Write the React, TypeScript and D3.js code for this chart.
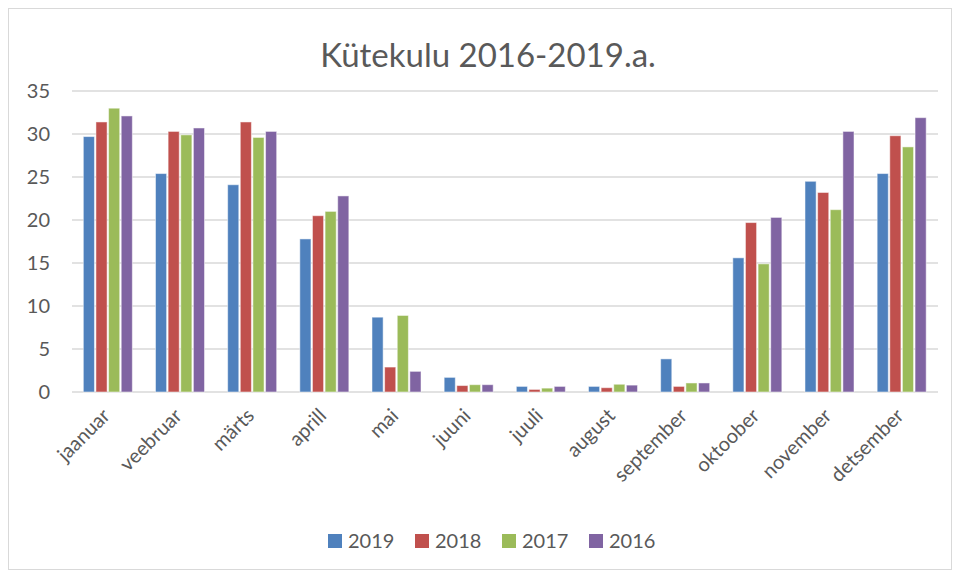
import React, { useEffect, useRef } from 'react';
import * as d3 from 'd3';

const months = ['jaanuar', 'veebruar', 'märts', 'aprill', 'mai', 'juuni', 'juuli', 'august', 'september', 'oktoober', 'november', 'detsember'];
const years = ['2019', '2018', '2017', '2016'];
const colors = ['#4f81bd', '#c0504d', '#9bbb59', '#8064a2'];

const v2019 = [29.7, 25.4, 24.1, 17.8, 8.7, 1.7, 0.65, 0.65, 3.85, 15.6, 24.5, 25.4];
const v2018 = [31.4, 30.3, 31.4, 20.5, 2.9, 0.75, 0.3, 0.5, 0.65, 19.7, 23.2, 29.8];
const v2017 = [33.0, 29.9, 29.6, 21.0, 8.9, 0.85, 0.45, 0.9, 1.05, 14.9, 21.2, 28.5];
const v2016 = [32.1, 30.7, 30.3, 22.8, 2.4, 0.85, 0.65, 0.8, 1.05, 20.3, 30.3, 31.9];
const yTicks = [0, 5, 10, 15, 20, 25, 30, 35];

const W = 955;
const H = 573;
const FONT = 'Lato, "Open Sans", sans-serif';

const App: React.FC = () => {
  const svgRef = useRef<SVGSVGElement>(null);

  useEffect(() => {
    if (!svgRef.current) return;
    const svg = d3.select(svgRef.current);
    svg.selectAll('*').remove();

    const series = [v2019, v2018, v2017, v2016];
    const left = 72, right = 938, top = 91, bottom = 392;

    // chart frame
    svg.append('rect')
      .attr('x', 8.5).attr('y', 8.5)
      .attr('width', 943).attr('height', 561)
      .attr('fill', '#fff').attr('stroke', '#d9d9d9');

    svg.append('text')
      .attr('x', 488).attr('y', 67)
      .attr('text-anchor', 'middle')
      .attr('font-family', FONT)
      .attr('font-size', 33)
      .attr('fill', '#595959')
      .text('Kütekulu 2016-2019.a.');

    const x = d3.scaleBand<string>().domain(months).range([left, right]).paddingInner(0.3).paddingOuter(0.15);
    const x1 = d3.scaleBand<string>().domain(years).range([0, x.bandwidth()]);
    const y = d3.scaleLinear().domain([0, 35]).range([bottom, top]);

    // gridlines
    svg.append('g').selectAll('line')
      .data(yTicks)
      .join('line')
        .attr('x1', left).attr('x2', right)
        .attr('y1', d => y(d)).attr('y2', d => y(d))
        .attr('stroke', '#d9d9d9')
        .attr('stroke-width', d => d === 0 ? 1.5 : 1.3);

    svg.append('g').selectAll('text')
      .data(yTicks)
      .join('text')
        .attr('x', 50).attr('y', d => y(d))
        .attr('dy', '0.35em')
        .attr('text-anchor', 'end')
        .attr('font-family', FONT)
        .attr('font-size', 20)
        .attr('fill', '#595959')
        .text(d => d);

    // bars
    const groups = svg.append('g').selectAll('g')
      .data(months)
      .join('g')
        .attr('transform', d => `translate(${x(d)},0)`);

    groups.selectAll('rect')
      .data((_, i) => series.map((s, k) => ({ year: years[k], value: s[i], color: colors[k] })))
      .join('rect')
        .attr('x', d => (x1(d.year) as number) + 0.5)
        .attr('width', x1.bandwidth() - 1.5)
        .attr('y', d => y(d.value))
        .attr('height', d => y(0) - y(d.value))
        .attr('fill', d => d.color)
        .attr('stroke', '#fff')
        .attr('stroke-opacity', 0.5)
        .attr('stroke-width', 1);

    // x labels
    svg.append('g').selectAll('text')
      .data(months)
      .join('text')
        .attr('transform', d => `translate(${(x(d) as number) + x.bandwidth() / 2 + 3},${bottom + 25}) rotate(-45)`)
        .attr('text-anchor', 'end')
        .attr('font-family', FONT)
        .attr('font-size', 20)
        .attr('fill', '#595959')
        .text(d => d);

    // legend
    const legendX = [328, 415, 502, 589];
    const legend = svg.append('g').selectAll('g')
      .data(years)
      .join('g')
        .attr('transform', (d, i) => `translate(${legendX[i]},534)`);
    legend.append('rect')
      .attr('width', 14).attr('height', 14)
      .attr('fill', (d, i) => colors[i]);
    legend.append('text')
      .attr('x', 20).attr('y', 7)
      .attr('dy', '0.36em')
      .attr('font-family', FONT)
      .attr('font-size', 20)
      .attr('fill', '#595959')
      .text(d => d);
  }, []);

  return (
    <svg ref={svgRef} width={W} height={H} style={{ position: 'absolute', left: 0, top: 0, background: '#fff' }} />
  );
};

export default App;
